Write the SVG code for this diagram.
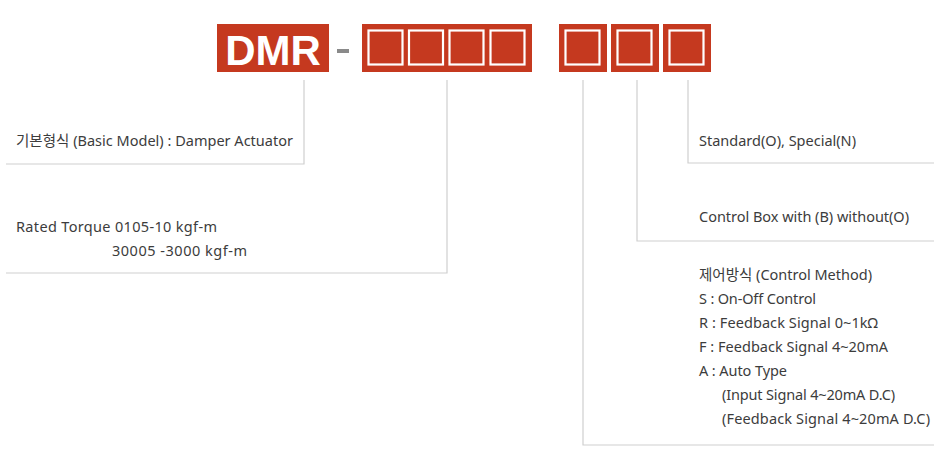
<svg xmlns="http://www.w3.org/2000/svg" width="945" height="451" viewBox="0 0 945 451">
<style>
.box{fill:#c5391f}
.sq{fill:none;stroke:#fff;stroke-width:2.2}
.ln{fill:none;stroke:#cfcfcf;stroke-width:1.2}
.t{font-family:"Noto Sans","Noto Sans CJK KR",sans-serif;font-size:14.5px;fill:#3c3c3c}
.big{font-family:"Liberation Sans",Arial,sans-serif;font-size:42px;font-weight:bold;fill:#fff}
</style>
<rect width="945" height="451" fill="#fff"/>
<g id="header">
<g id="dmr"><rect class="box" x="217" y="24" width="112" height="48"/><text class="big" x="273" y="65" text-anchor="middle">DMR</text></g>
<rect id="dash" x="337" y="49" width="12" height="4" fill="#8a8a8a"/>
<g id="torque-code"><rect class="box" x="362" y="24" width="170" height="48"/>
<rect class="sq" x="368.5" y="30.5" width="34" height="34"/><rect class="sq" x="409" y="30.5" width="34" height="34"/><rect class="sq" x="449.5" y="30.5" width="34" height="34"/><rect class="sq" x="490.5" y="30.5" width="34" height="34"/></g>
<g id="code-control"><rect class="box" x="559" y="24" width="48" height="48"/><rect class="sq" x="565.5" y="30.5" width="34" height="34"/></g>
<g id="code-box"><rect class="box" x="611" y="24" width="48" height="48"/><rect class="sq" x="617.5" y="30.5" width="34" height="34"/></g>
<g id="code-std"><rect class="box" x="663" y="24" width="48" height="48"/><rect class="sq" x="669.5" y="30.5" width="34" height="34"/></g>
</g>
<g id="connectors">
<polyline class="ln" points="304,80 304,164 6,164"/>
<polyline class="ln" points="447,80 447,273 6,273"/>
<polyline class="ln" points="688,80 688,163 934,163"/>
<polyline class="ln" points="637,80 637,241 934,241"/>
<polyline class="ln" points="583,80 583,445 934,445"/>
</g>
<g id="basic-model"><text class="t" x="16" y="146" textLength="277">기본형식 (Basic Model) : Damper Actuator</text></g>
<g id="rated-torque"><text class="t" x="16" y="232" textLength="201">Rated Torque 0105-10 kgf-m</text><text class="t" x="112" y="256" textLength="135">30005 -3000 kgf-m</text></g>
<g id="standard"><text class="t" x="699" y="146" textLength="157">Standard(O), Special(N)</text></g>
<g id="control-box"><text class="t" x="699" y="222" textLength="210">Control Box with (B) without(O)</text></g>
<g id="control-method">
<text class="t" x="699" y="280" textLength="173">제어방식 (Control Method)</text>
<text class="t" x="699" y="304" textLength="117">S : On-Off Control</text>
<text class="t" x="699" y="328" textLength="179">R : Feedback Signal 0~1kΩ</text>
<text class="t" x="699" y="352" textLength="189">F : Feedback Signal 4~20mA</text>
<text class="t" x="699" y="376" textLength="88">A : Auto Type</text>
<text class="t" x="722" y="400" textLength="173">(Input Signal 4~20mA D.C)</text>
<text class="t" x="722" y="424" textLength="208">(Feedback  Signal 4~20mA D.C)</text>
</g>
</svg>
